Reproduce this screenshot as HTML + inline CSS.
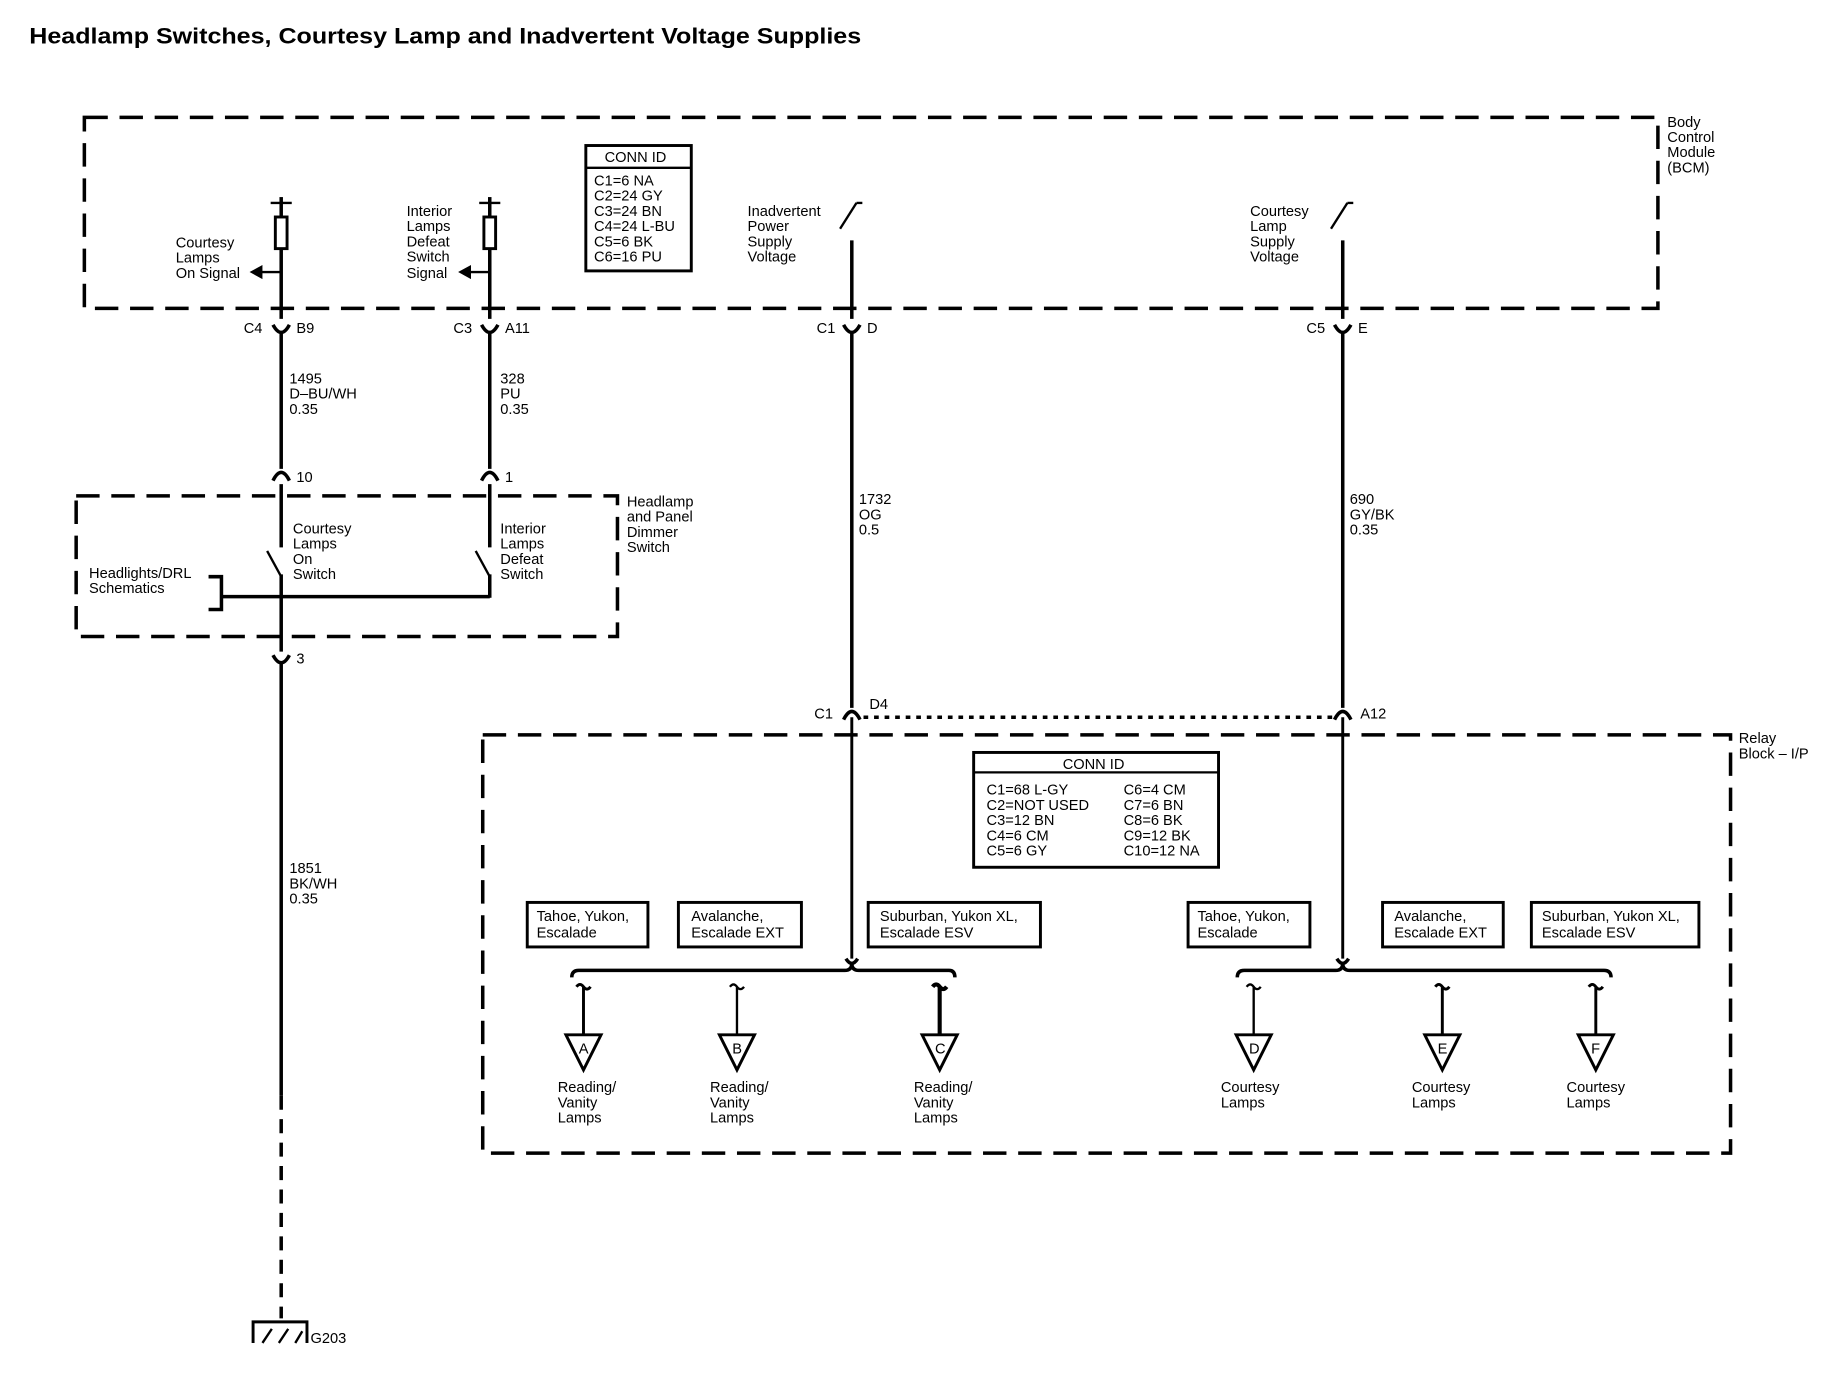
<!DOCTYPE html>
<html><head><meta charset="utf-8"><style>
html,body{margin:0;padding:0;background:#fff}
svg{display:block}
text{font-family:"Liberation Sans",Arial,sans-serif;fill:#000}
.t{font-size:12.5px}
</style></head><body>
<svg width="1836" height="1376" viewBox="0 0 1567 1174" xmlns="http://www.w3.org/2000/svg">
<text x="25" y="37" font-size="19" font-weight="bold" textLength="710" lengthAdjust="spacingAndGlyphs">Headlamp Switches, Courtesy Lamp and Inadvertent Voltage Supplies</text>
<g fill="none" stroke="#000" stroke-width="3" stroke-dasharray="20,10">
<rect x="72" y="100" width="1343" height="163"/>
<rect x="65" y="423" width="462" height="120"/>
<rect x="412" y="627" width="1065" height="357"/>
</g>
<g class="t">
<text x="1423" y="108">Body</text><text x="1423" y="121">Control</text><text x="1423" y="134">Module</text><text x="1423" y="147">(BCM)</text>
<text x="535" y="432">Headlamp</text><text x="535" y="445">and Panel</text><text x="535" y="458">Dimmer</text><text x="535" y="471">Switch</text>
<text x="1484" y="634">Relay</text><text x="1484" y="647">Block – I/P</text>
</g>
<!-- BCM conn id -->
<rect x="500" y="124" width="90" height="107" fill="none" stroke="#000" stroke-width="2.5"/>
<line x1="500" y1="143" x2="590" y2="143" stroke="#000" stroke-width="2"/>
<g class="t"><text x="516" y="138">CONN ID</text>
<text x="507" y="158">C1=6 NA</text><text x="507" y="171">C2=24 GY</text><text x="507" y="184">C3=24 BN</text><text x="507" y="197">C4=24 L-BU</text><text x="507" y="210">C5=6 BK</text><text x="507" y="223">C6=16 PU</text></g>
<g stroke="#000" stroke-width="3" fill="none">
<!-- wire 1 -->
<line x1="231" y1="173" x2="249" y2="173" stroke-width="2"/>
<line x1="240" y1="168" x2="240" y2="185"/>
<rect x="235" y="185" width="10" height="27" stroke-width="2.5"/>
<line x1="240" y1="212" x2="240" y2="272"/>
<line x1="240" y1="232" x2="222" y2="232" stroke-width="2"/>
<path d="M233 277 Q240 290 247 277"/>
<line x1="240" y1="284" x2="240" y2="400"/>
<path d="M233 410 Q240 396 247 410"/>
<line x1="240" y1="413" x2="240" y2="467"/>
<line x1="228" y1="470" x2="240" y2="492" stroke-width="2"/>
<line x1="240" y1="490" x2="240" y2="556"/>
<path d="M233 559 Q240 572 247 559"/>
<line x1="240" y1="566" x2="240" y2="935"/>
<line x1="240" y1="935" x2="240" y2="1125" stroke-dasharray="12,8"/>
<line x1="190" y1="509" x2="418" y2="509"/>
<path d="M178 492 H189 V520 H178"/>
<!-- wire 2 -->
<line x1="409" y1="173" x2="427" y2="173" stroke-width="2"/>
<line x1="418" y1="168" x2="418" y2="185"/>
<rect x="413" y="185" width="10" height="27" stroke-width="2.5"/>
<line x1="418" y1="212" x2="418" y2="272"/>
<line x1="418" y1="232" x2="400" y2="232" stroke-width="2"/>
<path d="M411 277 Q418 290 425 277"/>
<line x1="418" y1="284" x2="418" y2="400"/>
<path d="M411 410 Q418 396 425 410"/>
<line x1="418" y1="413" x2="418" y2="467"/>
<line x1="406" y1="470" x2="418" y2="492" stroke-width="2"/>
<line x1="418" y1="490" x2="418" y2="510"/>
<!-- wire 3 -->
<line x1="717" y1="195" x2="731" y2="173" stroke-width="2"/>
<line x1="731" y1="173" x2="736" y2="173" stroke-width="2"/>
<line x1="727" y1="205" x2="727" y2="272"/>
<path d="M720 277 Q727 290 734 277"/>
<line x1="727" y1="284" x2="727" y2="604"/>
<path d="M720 614 Q727 600 734 614"/>
<line x1="727" y1="612" x2="727" y2="818" stroke-width="2.5"/>
<!-- wire 4 -->
<line x1="1136" y1="195" x2="1150" y2="173" stroke-width="2"/>
<line x1="1150" y1="173" x2="1155" y2="173" stroke-width="2"/>
<line x1="1146" y1="205" x2="1146" y2="272"/>
<path d="M1139 277 Q1146 290 1153 277"/>
<line x1="1146" y1="284" x2="1146" y2="604"/>
<path d="M1139 614 Q1146 600 1153 614"/>
<line x1="1146" y1="612" x2="1146" y2="818" stroke-width="2.5"/>
<line x1="737" y1="612" x2="1137" y2="612" stroke-dasharray="4,5"/>
<!-- buses -->
<path d="M722 818 Q727 826 732 818"/>
<path d="M1141 818 Q1146 826 1151 818"/>
<path d="M488 834 Q488 828 494 828 H721 Q727 828 727 822 Q727 828 733 828 H810 Q815 828 815 834"/>
<path d="M1056 834 Q1056 828 1062 828 H1140 Q1146 828 1146 822 Q1146 828 1152 828 H1369 Q1375 828 1375 834"/>
<!-- ground -->
<path d="M216 1146 V1128 H262 V1146" stroke-width="2.5"/>
<path d="M224 1146 L232 1134 M238 1146 L246 1134 M252 1146 L258 1136" stroke-width="2"/>
</g>
<!-- arrowheads -->
<path d="M213 232 L224 226 L224 238 Z"/>
<path d="M391 232 L402 226 L402 238 Z"/>
<!-- drops -->
<g stroke="#000" fill="none" stroke-width="2.5">
<path d="M492 842 Q495 838 498 842 Q501 846 504 842 M498 842 V883"/>
<path d="M623 842 Q626 838 629 842 Q632 846 635 842 M629 842 V883" stroke-width="2"/>
<path d="M796 842 Q799 838 802 842 Q805 846 808 842 M802 842 V883" stroke-width="3.5"/>
<path d="M1064 842 Q1067 838 1070 842 Q1073 846 1076 842 M1070 842 V883" stroke-width="2"/>
<path d="M1225 842 Q1228 838 1231 842 Q1234 846 1237 842 M1231 842 V883"/>
<path d="M1356 842 Q1359 838 1362 842 Q1365 846 1368 842 M1362 842 V883"/>
<path d="M483 883 H513 L498 913 Z" fill="#fff"/>
<path d="M614 883 H644 L629 913 Z" fill="#fff"/>
<path d="M787 883 H817 L802 913 Z" fill="#fff"/>
<path d="M1055 883 H1085 L1070 913 Z" fill="#fff"/>
<path d="M1216 883 H1246 L1231 913 Z" fill="#fff"/>
<path d="M1347 883 H1377 L1362 913 Z" fill="#fff"/>
</g>
<g class="t" font-size="12">
<text x="494" y="899">A</text><text x="625" y="899">B</text><text x="798" y="899">C</text>
<text x="1066" y="899">D</text><text x="1227" y="899">E</text><text x="1358" y="899">F</text>
</g>
<g class="t">
<text x="150" y="211">Courtesy</text><text x="150" y="224">Lamps</text><text x="150" y="237">On Signal</text>
<text x="347" y="184">Interior</text><text x="347" y="197">Lamps</text><text x="347" y="210">Defeat</text><text x="347" y="223">Switch</text><text x="347" y="237">Signal</text>
<text x="638" y="184">Inadvertent</text><text x="638" y="197">Power</text><text x="638" y="210">Supply</text><text x="638" y="223">Voltage</text>
<text x="1067" y="184">Courtesy</text><text x="1067" y="197">Lamp</text><text x="1067" y="210">Supply</text><text x="1067" y="223">Voltage</text>
<text x="208" y="284">C4</text><text x="253" y="284">B9</text>
<text x="387" y="284">C3</text><text x="431" y="284">A11</text>
<text x="697" y="284">C1</text><text x="740" y="284">D</text>
<text x="1115" y="284">C5</text><text x="1159" y="284">E</text>
<text x="247" y="327">1495</text><text x="247" y="340">D–BU/WH</text><text x="247" y="353">0.35</text>
<text x="427" y="327">328</text><text x="427" y="340">PU</text><text x="427" y="353">0.35</text>
<text x="253" y="411">10</text><text x="431" y="411">1</text>
<text x="250" y="455">Courtesy</text><text x="250" y="468">Lamps</text><text x="250" y="481">On</text><text x="250" y="494">Switch</text>
<text x="427" y="455">Interior</text><text x="427" y="468">Lamps</text><text x="427" y="481">Defeat</text><text x="427" y="494">Switch</text>
<text x="76" y="493">Headlights/DRL</text><text x="76" y="506">Schematics</text>
<text x="253" y="566">3</text>
<text x="733" y="430">1732</text><text x="733" y="443">OG</text><text x="733" y="456">0.5</text>
<text x="1152" y="430">690</text><text x="1152" y="443">GY/BK</text><text x="1152" y="456">0.35</text>
<text x="695" y="613">C1</text><text x="742" y="605">D4</text><text x="1161" y="613">A12</text>
<text x="247" y="745">1851</text><text x="247" y="758">BK/WH</text><text x="247" y="771">0.35</text>
<text x="265" y="1146">G203</text>
</g>
<!-- relay conn id -->
<rect x="831" y="642" width="209" height="98" fill="none" stroke="#000" stroke-width="2.5"/>
<line x1="831" y1="659" x2="1040" y2="659" stroke="#000" stroke-width="2"/>
<g class="t"><text x="907" y="656">CONN ID</text>
<text x="842" y="678">C1=68 L-GY</text><text x="842" y="691">C2=NOT USED</text><text x="842" y="704">C3=12 BN</text><text x="842" y="717">C4=6 CM</text><text x="842" y="730">C5=6 GY</text>
<text x="959" y="678">C6=4 CM</text><text x="959" y="691">C7=6 BN</text><text x="959" y="704">C8=6 BK</text><text x="959" y="717">C9=12 BK</text><text x="959" y="730">C10=12 NA</text></g>
<g fill="none" stroke="#000" stroke-width="2.5">
<rect x="450" y="770" width="103" height="38"/><rect x="579" y="770" width="105" height="38"/><rect x="741" y="770" width="147" height="38"/>
<rect x="1014" y="770" width="104" height="38"/><rect x="1180" y="770" width="103" height="38"/><rect x="1307" y="770" width="143" height="38"/>
</g>
<g class="t">
<text x="458" y="786">Tahoe, Yukon,</text><text x="458" y="800">Escalade</text>
<text x="590" y="786">Avalanche,</text><text x="590" y="800">Escalade EXT</text>
<text x="751" y="786">Suburban, Yukon XL,</text><text x="751" y="800">Escalade ESV</text>
<text x="1022" y="786">Tahoe, Yukon,</text><text x="1022" y="800">Escalade</text>
<text x="1190" y="786">Avalanche,</text><text x="1190" y="800">Escalade EXT</text>
<text x="1316" y="786">Suburban, Yukon XL,</text><text x="1316" y="800">Escalade ESV</text>
<text x="476" y="932">Reading/</text><text x="476" y="945">Vanity</text><text x="476" y="958">Lamps</text>
<text x="606" y="932">Reading/</text><text x="606" y="945">Vanity</text><text x="606" y="958">Lamps</text>
<text x="780" y="932">Reading/</text><text x="780" y="945">Vanity</text><text x="780" y="958">Lamps</text>
<text x="1042" y="932">Courtesy</text><text x="1042" y="945">Lamps</text>
<text x="1205" y="932">Courtesy</text><text x="1205" y="945">Lamps</text>
<text x="1337" y="932">Courtesy</text><text x="1337" y="945">Lamps</text>
</g>
</svg>
</body></html>
